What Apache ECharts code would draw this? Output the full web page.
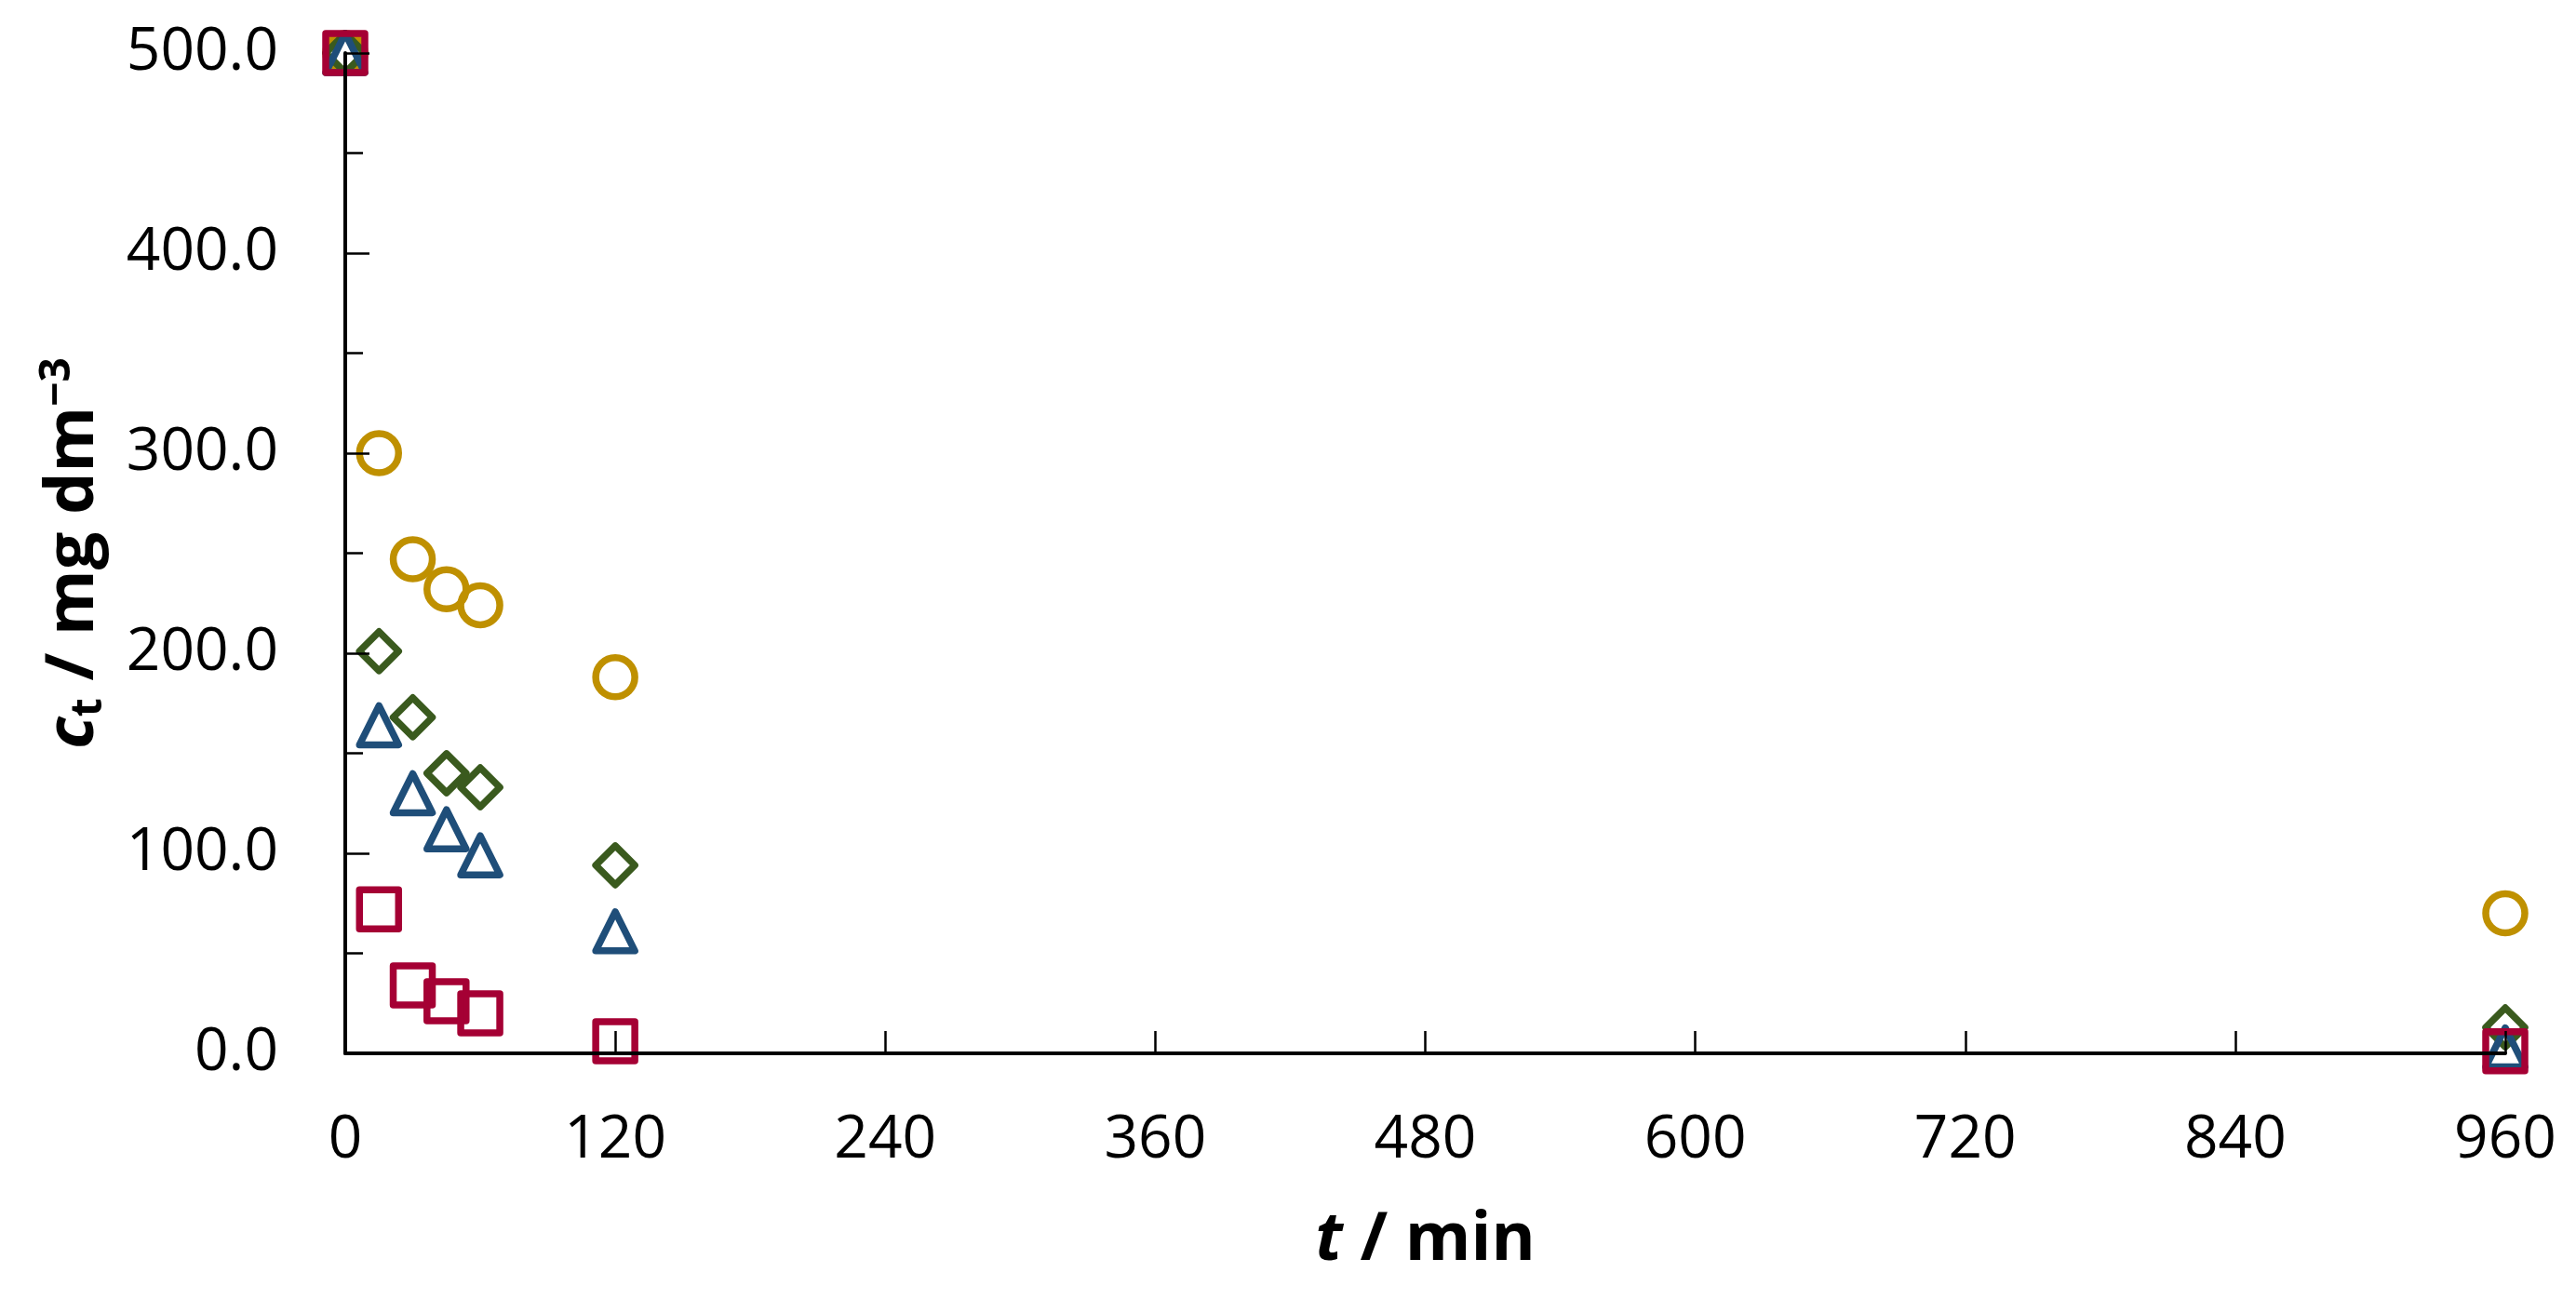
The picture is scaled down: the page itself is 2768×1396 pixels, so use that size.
<!DOCTYPE html>
<html>
<head>
<meta charset="utf-8">
<script src="https://cdn.jsdelivr.net/npm/echarts@6/dist/echarts.min.js"></script>
<style>
  html, body { margin: 0; padding: 0; background: #fff; }
  #chart { width: 2768px; height: 1396px; }
</style>
</head>
<body>
<div id="chart"></div>
<script>
// time points (min)
const times = [0, 15, 30, 45, 60, 120, 960];

// concentration c_t / mg dm-3, one array per marker series
const circleVals = [500, 300, 247, 232, 224, 188, 70];
const diamondVals = [500, 201, 168, 140, 133, 94, 13];
const triangleVals = [500, 164, 130, 112, 99, 61, 3];
const squareVals = [500, 72, 34, 26, 20, 6, 1];

const xTicks = { min: 0, max: 960, step: 120 };
const yTicks = { min: 0, max: 500, step: 100 };

const font = "'Open Sans', 'Noto Sans', sans-serif";

const pairs = (vals) => times.map((t, i) => [t, vals[i]]);

const makeSeries = (name, vals, symbol, color) => ({
    name,
    type: "scatter",
    data: pairs(vals),
    symbol,
    symbolSize: 42,
    clip: false,
    z: 1,
    itemStyle: {
        color: "rgba(0,0,0,0)",
        borderColor: color,
        borderWidth: 7.5,
        borderJoin: "round",
        opacity: 1,
    },
});

const chart = echarts.init(document.getElementById("chart"));

chart.setOption({
    animation: false,
    backgroundColor: "#fff",
    grid: {
        left: 371,
        right: 76,
        top: 57,
        bottom: 264,
    },
    xAxis: {
        type: "value",
        min: xTicks.min,
        max: xTicks.max,
        interval: xTicks.step,
        z: 5,
        splitLine: { show: false },
        axisLine: { lineStyle: { color: "#000", width: 4 } },
        axisTick: { inside: true, length: 24, lineStyle: { color: "#000", width: 2.5 } },
        axisLabel: {
            margin: 62,
            fontSize: 64,
            fontFamily: font,
            color: "#000",
            showMinLabel: true,
            showMaxLabel: true,
        },
        name: "{i|t} / min",
        nameLocation: "middle",
        nameGap: 165,
        nameTextStyle: {
            fontSize: 72,
            fontWeight: "bold",
            fontFamily: font,
            color: "#000",
            rich: {
                i: { fontSize: 72, fontWeight: "bold", fontStyle: "italic", fontFamily: font, color: "#000" },
            },
        },
    },
    yAxis: {
        type: "value",
        min: yTicks.min,
        max: yTicks.max,
        interval: yTicks.step,
        z: 5,
        splitLine: { show: false },
        axisLine: { lineStyle: { color: "#000", width: 4 } },
        axisTick: { inside: true, length: 26, lineStyle: { color: "#000", width: 2.5 } },
        minorTick: { show: true, splitNumber: 2, length: 19, lineStyle: { color: "#000", width: 2.5 } },
        axisLabel: {
            margin: 72,
            fontSize: 64,
            fontFamily: font,
            color: "#000",
            formatter: (v) => v.toFixed(1),
        },
        name: "{c|c}{sub|t}{n| / mg dm}{sup|−3}",
        nameLocation: "middle",
        nameRotate: 90,
        nameGap: 252,
        nameTextStyle: {
            fontSize: 72,
            fontWeight: "bold",
            fontFamily: font,
            color: "#000",
            rich: {
                c: { fontSize: 72, fontWeight: "bold", fontStyle: "italic", fontFamily: font, color: "#000", lineHeight: 80 },
                sub: { fontSize: 46, fontFamily: font, color: "#000", lineHeight: 30, verticalAlign: "bottom" },
                n: { fontSize: 72, fontWeight: "bold", fontFamily: font, color: "#000", lineHeight: 80 },
                sup: { fontSize: 46, fontFamily: font, color: "#000", lineHeight: 30, verticalAlign: "top" },
            },
        },
    },
    series: [
        makeSeries("circle", circleVals, "circle", "#BF9000"),
        makeSeries("diamond", diamondVals, "diamond", "#3A5A1E"),
        makeSeries("triangle", triangleVals, "triangle", "#1F4E79"),
        makeSeries("square", squareVals, "rect", "#A50034"),
    ],
});
</script>
</body>
</html>
